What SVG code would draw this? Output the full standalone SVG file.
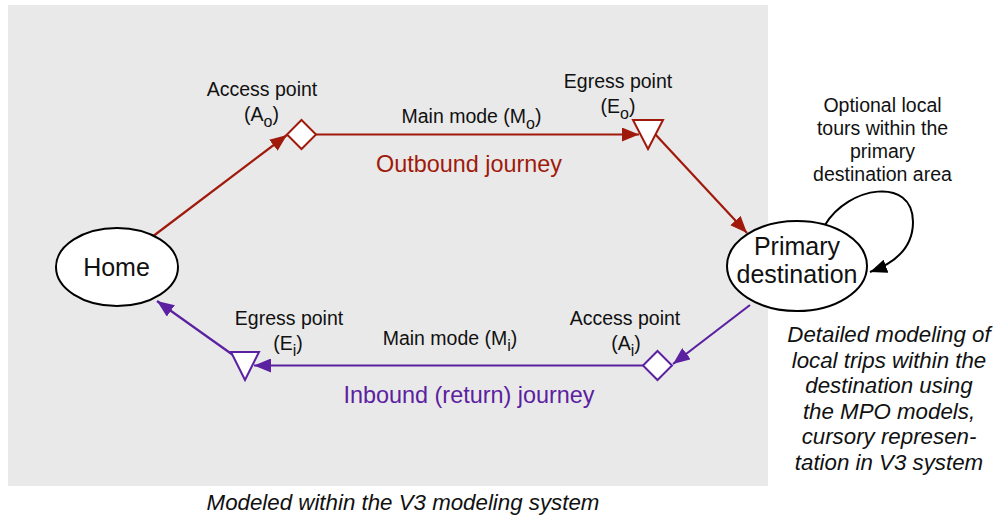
<svg xmlns="http://www.w3.org/2000/svg" width="997" height="519" viewBox="0 0 997 519">
<style>
text{font-family:"Liberation Sans",Arial,sans-serif;fill:#111;}
.lbl{font-size:19.5px;text-anchor:middle;}
.sub{font-size:16px;}
.node{font-size:25px;text-anchor:middle;}
.jr{font-size:23.4px;text-anchor:middle;}
.it{font-size:22.3px;font-style:italic;text-anchor:middle;}
.ell{fill:#fff;stroke:#000;stroke-width:2;}
.red{stroke:#a01a0c;stroke-width:2.2;fill:none;}
.pur{stroke:#5b21a0;stroke-width:2.2;fill:none;}
.blk{stroke:#000;stroke-width:2;fill:none;}
.mred{fill:#fff;stroke:#a01a0c;stroke-width:2;}
.mpur{fill:#fff;stroke:#5b21a0;stroke-width:2;}
</style>
<defs>
<marker id="ar" markerUnits="userSpaceOnUse" markerWidth="18" markerHeight="14" refX="17" refY="7" orient="auto"><path d="M0,0 L17,7 L0,14 Z" fill="#a01a0c"/></marker>
<marker id="ap" markerUnits="userSpaceOnUse" markerWidth="18" markerHeight="14" refX="17" refY="7" orient="auto"><path d="M0,0 L17,7 L0,14 Z" fill="#5b21a0"/></marker>
<marker id="ab" markerUnits="userSpaceOnUse" markerWidth="18" markerHeight="14" refX="17" refY="7" orient="auto"><path d="M0,0 L17,7 L0,14 Z" fill="#000"/></marker>
</defs>
<rect x="8" y="5" width="760" height="481" fill="#e9e9e9"/>
<g id="connectors">
<line class="red" x1="152" y1="237" x2="287" y2="135" marker-end="url(#ar)"/>
<line class="red" x1="316" y1="134.5" x2="639" y2="134.5" marker-end="url(#ar)"/>
<line class="red" x1="655" y1="134" x2="747" y2="233" marker-end="url(#ar)"/>
<line class="pur" x1="750" y1="305" x2="673" y2="364" marker-end="url(#ap)"/>
<line class="pur" x1="643" y1="365.5" x2="254" y2="365.5" marker-end="url(#ap)"/>
<line class="pur" x1="233" y1="355" x2="157" y2="301" marker-end="url(#ap)"/>
<path class="blk" d="M825,225 C848,186 913,176 913,222 C913,248 895,263 870,272" marker-end="url(#ab)"/>
</g>
<g id="home"><ellipse class="ell" cx="117" cy="267" rx="61" ry="39"/><text class="node" x="116.5" y="276">Home</text></g>
<g id="primary"><ellipse class="ell" cx="797" cy="266" rx="70" ry="45"/><text class="node" x="797" y="255">Primary</text><text class="node" x="797" y="283">destination</text></g>
<g id="access-out"><polygon class="mred" points="301.5,120 316,134.5 301.5,149 287,134.5"/></g>
<g id="egress-out"><polygon class="mred" points="633,120 663,120 648,149"/></g>
<g id="access-in"><polygon class="mpur" points="657.5,351 672,365.5 657.5,380 643,365.5"/></g>
<g id="egress-in"><polygon class="mpur" points="231,352 259,352 245,380"/></g>
<g id="labels">
<text class="lbl" x="262" y="96">Access point</text>
<text class="lbl" x="261.5" y="121">(A<tspan class="sub" dy="6">o</tspan><tspan dy="-6">)</tspan></text>
<text class="lbl" x="618" y="88">Egress point</text>
<text class="lbl" x="618" y="113">(E<tspan class="sub" dy="6">o</tspan><tspan dy="-6">)</tspan></text>
<text class="lbl" x="471.5" y="123">Main mode (M<tspan class="sub" dy="6">o</tspan><tspan dy="-6">)</tspan></text>
<text class="jr" x="469" y="172" style="fill:#a01a0c">Outbound journey</text>
<text class="lbl" x="289" y="325">Egress point</text>
<text class="lbl" x="288" y="350">(E<tspan class="sub" dy="6">i</tspan><tspan dy="-6">)</tspan></text>
<text class="lbl" x="450" y="345">Main mode (M<tspan class="sub" dy="6">i</tspan><tspan dy="-6">)</tspan></text>
<text class="lbl" x="625" y="325">Access point</text>
<text class="lbl" x="626" y="350">(A<tspan class="sub" dy="6">i</tspan><tspan dy="-6">)</tspan></text>
<text class="jr" x="469" y="403" style="fill:#5b21a0">Inbound (return) journey</text>
<text class="lbl" x="882.5" y="112">Optional local</text>
<text class="lbl" x="882.5" y="135">tours within the</text>
<text class="lbl" x="882.5" y="158">primary</text>
<text class="lbl" x="882.5" y="181">destination area</text>
<text class="it" x="889" y="342">Detailed modeling of</text>
<text class="it" x="889" y="368">local trips within the</text>
<text class="it" x="889" y="393">destination using</text>
<text class="it" x="889" y="419">the MPO models,</text>
<text class="it" x="889" y="444">cursory represen-</text>
<text class="it" x="889" y="470">tation in V3 system</text>
<text class="it" x="403" y="510">Modeled within the V3 modeling system</text>
</g>
</svg>
